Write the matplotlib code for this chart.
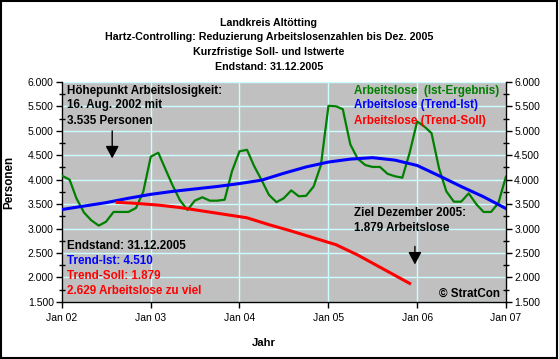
import matplotlib
matplotlib.use('Agg')
import matplotlib.pyplot as plt
import matplotlib.ticker as mticker
import matplotlib.dates as mdates
from matplotlib.patches import Rectangle
import pandas as pd

plt.rcParams['font.family'] = ['Liberation Sans', 'DejaVu Sans']

# monthly unemployment counts Jan 2002 .. Jan 2007 (Ist-Ergebnis)
ist_dates = pd.date_range('2002-01-01', '2007-01-01', freq='MS')
ist_values = [
    4080, 4000, 3620, 3330, 3170, 3060, 3140, 3340, 3340, 3340, 3420, 3750,
    4470, 4550, 4230, 3880, 3580, 3380, 3570, 3640, 3570, 3570, 3590, 4170,
    4580, 4610, 4280, 3990, 3690, 3540, 3620, 3780, 3660, 3670, 3860, 4300,
    5510, 5500, 5440, 4720, 4430, 4300, 4260, 4260, 4120, 4070, 4040, 4550,
    5190, 5080, 4950, 4230, 3760, 3550, 3550, 3720, 3500, 3340, 3340, 3520,
    4060,
]

# trend of the actual values (read quarterly)
trend_ist_dates = pd.date_range('2002-01-01', '2007-01-01', freq='3MS')
trend_ist_values = [3390, 3460, 3530, 3620, 3700, 3760, 3810, 3860, 3920, 3990,
                    4130, 4260, 4360, 4420, 4450, 4400, 4290, 4080, 3860, 3650,
                    3410]

# target trend from the peak in Aug 2002 down to Dec 2005
trend_soll_dates = pd.to_datetime(['2002-08-16', '2002-11-01', '2003-02-01', '2003-05-01',
                                   '2003-08-01', '2003-11-01', '2004-02-01', '2004-05-01',
                                   '2004-08-01', '2004-11-01', '2005-02-01', '2005-05-01',
                                   '2005-08-01', '2005-11-01', '2005-12-01'])
trend_soll_values = [3535, 3515, 3480, 3430, 3360, 3290, 3220, 3080, 2950, 2810,
                     2670, 2460, 2210, 1960, 1879]

year_ticks = pd.date_range('2002-01-01', '2007-01-01', freq='YS')

fig = plt.figure(figsize=(5.59, 3.59), dpi=100)
fig.patch.set_facecolor('white')
fig.patches.append(Rectangle((0.002, 0.004), 0.995, 0.992, transform=fig.transFigure,
                             fill=False, edgecolor='black', lw=1.5))

ax = fig.add_axes([0.111, 0.159, 0.794, 0.613])
ax.set_facecolor('#C0C0C0')

ax.plot(ist_dates, ist_values, color='#008000', lw=1.6, zorder=3)
ax.plot(trend_ist_dates, trend_ist_values, color='#0000FF', lw=2.2, zorder=4)
ax.plot(trend_soll_dates, trend_soll_values, color='#FF0000', lw=2.2, zorder=4)

ax.set_xlim(year_ticks[0], year_ticks[-1])
ax.set_ylim(1500, 6000)
ax.set_xticks(year_ticks)
ax.xaxis.set_major_formatter(mdates.DateFormatter('%b %y'))
ax.yaxis.set_major_locator(mticker.MultipleLocator(500))
ax.yaxis.set_minor_locator(mticker.MultipleLocator(250))
ax.yaxis.set_major_formatter(mticker.FuncFormatter(lambda v, p: f'{int(v):,}'.replace(',', '.')))
ax.grid(True, which='major', color='#CCFFFF', lw=1, zorder=1)
ax.set_axisbelow(True)

ax.spines['top'].set_visible(False)
for s in ['left', 'right', 'bottom']:
    ax.spines[s].set_linewidth(1)
ax.tick_params(axis='y', which='major', left=True, right=True, labelright=True,
               direction='out', length=4, width=1, labelsize=7.5, pad=2)
ax.tick_params(axis='y', which='minor', left=True, right=True,
               direction='inout', length=4, width=1)
ax.tick_params(axis='x', which='major', direction='out', length=4, width=1,
               labelsize=7.5, pad=4)

ax.set_ylabel('Personen', fontsize=8.4, fontweight='bold')
ax.yaxis.set_label_coords(-0.106, 0.545)
ax.set_xlabel('Jahr', fontsize=8.2, fontweight='bold')
ax.xaxis.set_label_coords(0.455, -0.165)

titles = ['Landkreis Altötting',
          'Hartz-Controlling: Reduzierung Arbeitslosenzahlen bis Dez. 2005',
          'Kurzfristige Soll- und Istwerte',
          'Endstand: 31.12.2005']
for t, y in zip(titles, [0.937, 0.898, 0.854, 0.812]):
    fig.text(0.481, y, t, ha='center', va='center', fontsize=7.7, fontweight='bold')

def note(x, y, s, color='black', ha='left'):
    ax.text(x, y, s, transform=ax.transAxes, ha=ha, va='center', color=color,
            fontsize=8.4, fontweight='bold', zorder=6)

note(0.011, 0.960, 'Höhepunkt Arbeitslosigkeit:')
note(0.011, 0.894, '16. Aug. 2002 mit')
note(0.011, 0.824, '3.535 Personen')

note(0.011, 0.256, 'Endstand: 31.12.2005')
note(0.011, 0.186, 'Trend-Ist: 4.510', '#0000FF')
note(0.011, 0.118, 'Trend-Soll: 1.879', '#FF0000')
note(0.011, 0.050, '2.629 Arbeitslose zu viel', '#FF0000')

note(0.658, 0.960, 'Arbeitslose  (Ist-Ergebnis)', '#008000')
note(0.658, 0.895, 'Arbeitslose (Trend-Ist)', '#0000FF')
note(0.658, 0.823, 'Arbeitslose (Trend-Soll)', '#FF0000')

note(0.658, 0.403, 'Ziel Dezember 2005:')
note(0.658, 0.336, '1.879 Arbeitslose')
note(0.986, 0.035, '© StratCon', ha='right')

arrow = dict(arrowstyle='-|>,head_length=0.75,head_width=0.4', color='black',
             lw=1, mutation_scale=10, shrinkA=0, shrinkB=0)
ax.annotate('', xy=(0.113, 0.652), xytext=(0.113, 0.777),
            xycoords='axes fraction', arrowprops=arrow, zorder=6)
ax.annotate('', xy=(0.795, 0.170), xytext=(0.795, 0.252),
            xycoords='axes fraction', arrowprops=arrow, zorder=6)

fig.savefig('out.png', dpi=100)
